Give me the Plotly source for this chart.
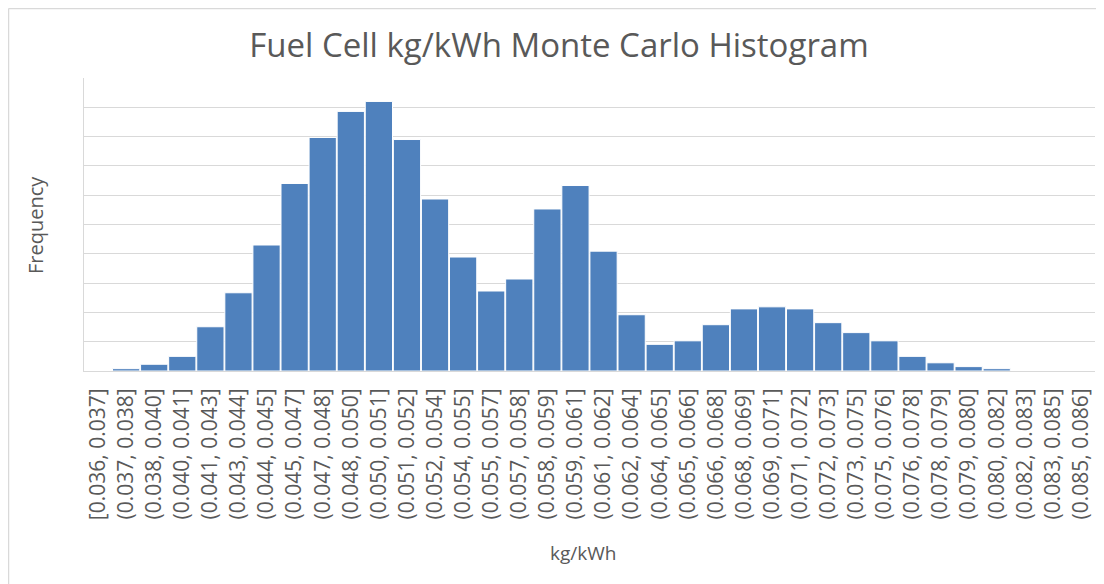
import plotly.graph_objects as go

bin_labels = [
    "[0.036, 0.037]", "(0.037, 0.038]", "(0.038, 0.040]", "(0.040, 0.041]",
    "(0.041, 0.043]", "(0.043, 0.044]", "(0.044, 0.045]", "(0.045, 0.047]",
    "(0.047, 0.048]", "(0.048, 0.050]", "(0.050, 0.051]", "(0.051, 0.052]",
    "(0.052, 0.054]", "(0.054, 0.055]", "(0.055, 0.057]", "(0.057, 0.058]",
    "(0.058, 0.059]", "(0.059, 0.061]", "(0.061, 0.062]", "(0.062, 0.064]",
    "(0.064, 0.065]", "(0.065, 0.066]", "(0.066, 0.068]", "(0.068, 0.069]",
    "(0.069, 0.071]", "(0.071, 0.072]", "(0.072, 0.073]", "(0.073, 0.075]",
    "(0.075, 0.076]", "(0.076, 0.078]", "(0.078, 0.079]", "(0.079, 0.080]",
    "(0.080, 0.082]", "(0.082, 0.083]", "(0.083, 0.085]", "(0.085, 0.086]",
]

frequency = [
    0, 8, 23, 50, 151, 267, 430, 640, 797, 886, 920, 790,
    587, 389, 273, 314, 553, 633, 409, 192, 91, 103, 158, 212,
    219, 212, 165, 131, 103, 50, 28, 15, 8, 0, 0, 0,
]

fig = go.Figure(go.Bar(
    x=bin_labels, y=frequency,
    marker=dict(color="#4F81BD", line=dict(color="white", width=1)),
))

grey = "#595959"
fig.update_layout(
    width=1096, height=576,
    margin=dict(l=76, r=9, t=70, b=213),
    paper_bgcolor="white", plot_bgcolor="white",
    bargap=0.03,
    showlegend=False,
    font=dict(family="Open Sans, DejaVu Sans, sans-serif", color=grey),
    title=dict(text="Fuel Cell kg/kWh Monte Carlo Histogram",
               x=(559 - 84) / 1011, xref="paper", xanchor="center",
               y=1 - 37 / 576, yref="container", yanchor="middle",
               font=dict(size=33, color=grey)),
    xaxis=dict(type="category", tickangle=-90, showgrid=False,
               tickfont=dict(size=21, color=grey),
               showline=True, linecolor="#D9D9D9", linewidth=1,
               ticks="", ticklabelstandoff=8),
    yaxis=dict(range=[0, 1000], dtick=100, showticklabels=False,
               showgrid=True, gridcolor="#D9D9D9", gridwidth=1,
               zeroline=False, showline=True, linecolor="#D9D9D9",
               ticks=""),
    annotations=[
        dict(text="Frequency", x=(35 - 84) / 1011, xref="paper",
             y=(371 - 225) / 293, yref="paper",
             showarrow=False, textangle=-90, font=dict(size=20, color=grey),
             xanchor="center", yanchor="middle"),
        dict(text="kg/kWh", x=(583 - 84) / 1011, xref="paper",
             y=(371 - 553) / 293, yref="paper",
             showarrow=False, font=dict(size=19, color=grey),
             xanchor="center", yanchor="middle"),
    ],
    shapes=[
        dict(type="line", xref="paper", yref="paper",
             x0=(8.5 - 84) / 1011, x1=(8.5 - 84) / 1011,
             y0=(371 - 8.5) / 293, y1=-0.75,
             line=dict(color="#D9D9D9", width=1.5)),
        dict(type="line", xref="paper", yref="paper",
             x0=(8.5 - 84) / 1011, x1=1.02,
             y0=(371 - 8.5) / 293, y1=(371 - 8.5) / 293,
             line=dict(color="#D9D9D9", width=1.5)),
    ],
)

fig.write_html("out.html")
